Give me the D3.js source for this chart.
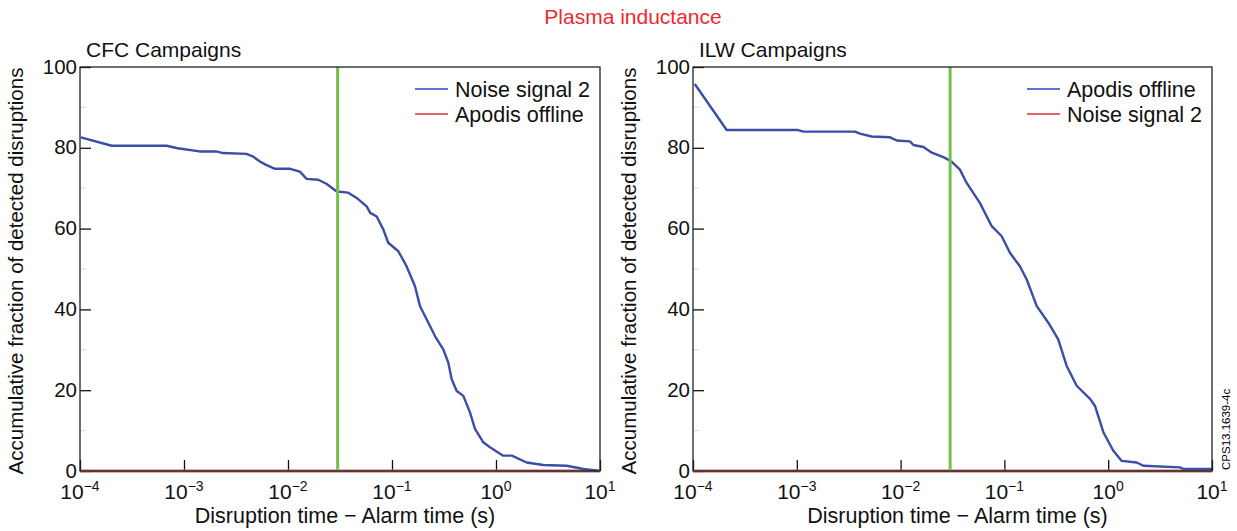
<!DOCTYPE html>
<html>
<head>
<meta charset="utf-8">
<script src="https://cdn.jsdelivr.net/npm/d3@7/dist/d3.min.js"></script>
<style>
  body { margin: 0; background: #fff; }
  text { font-family: "Liberation Sans", Arial, sans-serif; }
</style>
</head>
<body>
<div id="chart"></div>
<script>
// ---- data ----
const xTicks = [1e-4, 1e-3, 1e-2, 1e-1, 1, 10];
const xTickExp = ["\u22124", "\u22123", "\u22122", "\u22121", "0", "1"];
const yTicks = [0, 20, 40, 60, 80, 100];
const yMinor = [10, 30, 50, 70, 90];
const alarmLine = 0.03;

// CFC campaigns: Noise signal 2 (blue)
const cfcTimes = [1.02e-4, 2.02e-4, 6.8e-4, 8.7e-4, 1.41e-3, 2.04e-3, 2.37e-3, 3.98e-3, 4.57e-3, 5.37e-3,
  6.03e-3, 7.5e-3, 0.0105, 0.013, 0.0151, 0.0195, 0.0234, 0.0294, 0.038, 0.0457,
  0.0571, 0.0617, 0.0713, 0.0824, 0.092, 0.115, 0.138, 0.166, 0.186, 0.232,
  0.259, 0.311, 0.348, 0.375, 0.419, 0.485, 0.562, 0.628, 0.755, 0.875,
  1.17, 1.42, 1.97, 2.85, 4.79, 6.92, 9.6];
const cfcNoise2 = [82.6, 80.5, 80.5, 79.9, 79.1, 79.1, 78.7, 78.5, 77.9, 76.6,
  75.9, 74.8, 74.8, 74.1, 72.3, 72.1, 71.1, 69.2, 68.9, 67.6,
  65.5, 63.9, 63.0, 59.8, 56.5, 54.4, 50.7, 45.8, 40.8, 35.9,
  33.4, 30.1, 26.8, 22.7, 19.8, 18.6, 14.5, 10.4, 7.1, 5.9,
  3.8, 3.8, 2.1, 1.5, 1.3, 0.5, 0.1];
const cfcApodisTimes = [1e-4, 10];
const cfcApodis = [0, 0];

// ILW campaigns: Apodis offline (blue)
const ilwTimes = [1.04e-4, 2.11e-4, 1.03e-3, 1.16e-3, 3.64e-3, 4.06e-3, 5.27e-3, 7.91e-3, 9.17e-3, 0.0123,
  0.0133, 0.0166, 0.02, 0.0258, 0.031, 0.0373, 0.0433, 0.0582, 0.0755, 0.0942,
  0.113, 0.141, 0.164, 0.205, 0.265, 0.33, 0.398, 0.497, 0.672, 0.746,
  0.898, 1.12, 1.35, 1.88, 2.18, 4.92, 5.3, 10];
const ilwApodis = [95.8, 84.4, 84.4, 84.0, 84.0, 83.5, 82.8, 82.6, 81.8, 81.6,
  80.7, 80.2, 78.8, 77.7, 76.6, 74.6, 71.3, 66.3, 60.6, 58.1,
  54.0, 50.7, 47.4, 40.8, 36.7, 32.6, 26.0, 21.1, 17.8, 16.1,
  9.6, 5.0, 2.5, 2.1, 1.3, 0.9, 0.5, 0.5];
const ilwNoiseTimes = [1e-4, 10];
const ilwNoise2 = [0, 0];

// ---- svg ----
const svg = d3.select("#chart")
  .append("svg")
  .attr("width", 1237)
  .attr("height", 531);

const blue = "#3a4ea6";
const red = "#e0303a";
const green = "#72c04e";

svg.append("text")
  .attr("x", 633).attr("y", 24)
  .attr("text-anchor", "middle")
  .attr("fill", "#ee2a30")
  .attr("font-size", 21)
  .text("Plasma inductance");

svg.append("text")
  .attr("transform", "translate(1230,470) rotate(-90)")
  .attr("font-size", 11.5)
  .text("CPS13.1639-4c");

function drawPanel(p) {
  const top = 67, bottom = 471;
  const x = d3.scaleLog().domain([1e-4, 10]).range([p.left, p.right]);
  const y = d3.scaleLinear().domain([0, 100]).range([bottom, top]);
  const g = svg.append("g");

  // minor y ticks (faint)
  g.selectAll(".minor")
    .data(yMinor)
    .enter().append("line")
    .attr("x1", p.left).attr("x2", p.left + 6)
    .attr("y1", d => y(d)).attr("y2", d => y(d))
    .attr("stroke", "#d8d8d8").attr("stroke-width", 1);

  // y axis, ticks pointing inwards
  const yAxis = g.append("g")
    .attr("transform", `translate(${p.left},0)`)
    .call(d3.axisLeft(y).tickValues(yTicks).tickSize(-11).tickPadding(3).tickSizeOuter(0));
  yAxis.select(".domain").remove();
  yAxis.selectAll("text").attr("font-size", 20.5).attr("fill", "#111")
    .attr("dy", "0.3em")
    .attr("font-family", "Liberation Sans, Arial, sans-serif");
  yAxis.selectAll(".tick line").attr("stroke", "#111").attr("stroke-width", 1.3);

  // x axis ticks pointing inwards
  const xAxis = g.append("g")
    .attr("transform", `translate(0,${bottom})`)
    .call(d3.axisBottom(x).tickValues(xTicks).tickSize(-11).tickFormat("").tickSizeOuter(0));
  xAxis.select(".domain").remove();
  xAxis.selectAll(".tick line").attr("stroke", "#111").attr("stroke-width", 1.3);

  // x tick labels 10^n
  const lbl = g.selectAll(".xlbl")
    .data(xTicks)
    .enter().append("text")
    .attr("x", d => x(d))
    .attr("y", bottom + 28)
    .attr("text-anchor", "middle")
    .attr("font-size", 21)
    .attr("fill", "#111");
  lbl.append("tspan").text("10");
  lbl.append("tspan")
    .attr("dy", -8)
    .attr("font-size", 14)
    .text((d, i) => xTickExp[i]);

  // curves
  const line = d3.line().x(d => x(d[0])).y(d => y(d[1]));

  g.append("path")
    .datum(d3.zip(p.redTimes, p.redValues))
    .attr("d", line)
    .attr("fill", "none")
    .attr("stroke", "#c8605e")
    .attr("stroke-width", 3);

  g.append("path")
    .datum(d3.zip(p.blueTimes, p.blueValues))
    .attr("d", line)
    .attr("fill", "none")
    .attr("stroke", blue)
    .attr("stroke-width", 2.4)
    .attr("stroke-linejoin", "round");

  // alarm threshold
  g.append("line")
    .attr("x1", x(alarmLine)).attr("x2", x(alarmLine))
    .attr("y1", top).attr("y2", bottom)
    .attr("stroke", green).attr("stroke-width", 3);

  // box
  g.append("rect")
    .attr("x", p.left).attr("y", top)
    .attr("width", p.right - p.left).attr("height", bottom - top)
    .attr("fill", "none").attr("stroke", "#222").attr("stroke-width", 1.3);

  // titles
  g.append("text")
    .attr("x", p.left + 6).attr("y", 57)
    .attr("font-size", 21).attr("fill", "#111")
    .text(p.title);

  g.append("text")
    .attr("transform", `translate(${p.left - 57},${(top + bottom) / 2 + 2}) rotate(-90)`)
    .attr("text-anchor", "middle")
    .attr("font-size", 20.5).attr("fill", "#111")
    .text("Accumulative fraction of detected disruptions");

  g.append("text")
    .attr("x", (p.left + p.right) / 2 + 5).attr("y", 523)
    .attr("text-anchor", "middle")
    .attr("font-size", 21.5).attr("fill", "#111")
    .text("Disruption time \u2212 Alarm time (s)");

  // legend
  const lx = p.right - 185;
  const items = [[p.blueName, "#2f44b8"], [p.redName, red]];
  items.forEach((it, i) => {
    const ly = 89 + i * 25;
    g.append("line")
      .attr("x1", lx).attr("x2", lx + 33)
      .attr("y1", ly).attr("y2", ly)
      .attr("stroke", it[1]).attr("stroke-width", 1.6);
    g.append("text")
      .attr("x", lx + 40).attr("y", ly + 7.5)
      .attr("font-size", 21.5).attr("fill", "#111")
      .text(it[0]);
  });
}

drawPanel({
  left: 80, right: 600, title: "CFC Campaigns",
  blueTimes: cfcTimes, blueValues: cfcNoise2, blueName: "Noise signal 2",
  redTimes: cfcApodisTimes, redValues: cfcApodis, redName: "Apodis offline"
});

drawPanel({
  left: 693, right: 1212, title: "ILW Campaigns",
  blueTimes: ilwTimes, blueValues: ilwApodis, blueName: "Apodis offline",
  redTimes: ilwNoiseTimes, redValues: ilwNoise2, redName: "Noise signal 2"
});
</script>
</body>
</html>
